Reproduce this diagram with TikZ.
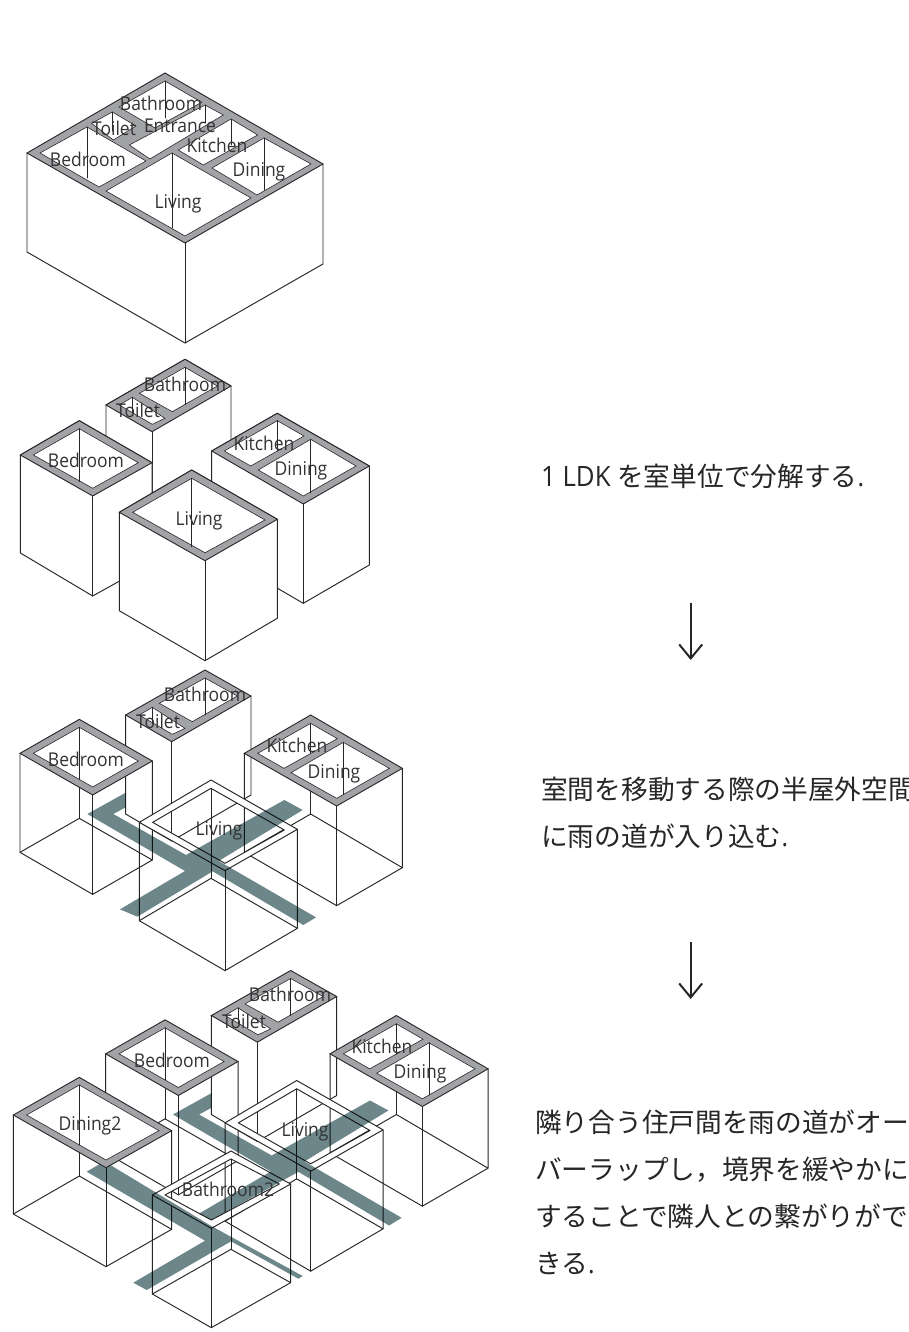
\documentclass[tikz,border=0pt]{standalone}
\usepackage{fontspec}
\setmainfont{Open Sans}[FakeStretch=0.92]
\newfontfamily\jp{Noto Sans CJK JP}
\usetikzlibrary{arrows.meta}
\definecolor{lc}{HTML}{262626}
\definecolor{roofc}{HTML}{A2A3A7}
\definecolor{roadc}{HTML}{6C868A}
\definecolor{labc}{HTML}{333333}
\tikzset{
  edge/.style={draw=lc,line width=.95pt,line cap=round,line join=round},
  roof/.style={fill=roofc,draw=lc,line width=.9pt,line join=miter},
  hole/.style={fill=white,draw=lc,line width=.6pt,line join=miter},
  face/.style={fill=white,draw=lc,line width=.95pt,line join=round},
  lab/.style={inner sep=0pt,text=labc,font=\fontsize{19}{19}\selectfont},
  jpline/.style={inner sep=0pt,anchor=base west,text=lc,font=\fontsize{26.7}{27}\selectfont\jp},
  flow/.style={draw=black!85,line width=2pt,-{Straight Barb[length=14pt,width=23pt,line width=2pt]}},
  road/.style={fill=roadc,blend mode=multiply},
  zthree/.style={x=.33333pt,y=-.33333pt}
}
\newcommand\backlines{%
  \draw[edge] (60,280)--(60,577)--(278,703)--(457,600)--(457,303);
  \draw[edge] (278,405)--(278,703);
  \draw[edge] (238,202)--(238,475);
  \draw[edge] (60,577)--(238,475)--(457,600);
  \draw[edge] (377,165)--(377,462)--(515,543)--(753,405)--(753,108);
  \draw[edge] (515,245)--(515,543);
  \draw[edge] (733,280)--(733,577)--(1010,737)--(1207,623)--(1207,325);
  \draw[edge] (1010,438)--(1010,737);
  \draw[edge] (932,190)--(932,462);
  \draw[edge] (733,577)--(932,462)--(1207,623);
}
\newcommand\livingbox{%
  \fill[white,even odd rule] (633,360)--(892,508)--(675,632)--(418,487)--cycle (633,385)--(853,510)--(675,610)--(458,487)--cycle;
  \draw[edge] (633,360)--(892,508)--(675,632)--(418,487)--cycle;
  \draw[edge] (633,385)--(853,510)--(675,610)--(458,487)--cycle;
  \draw[edge] (418,487)--(418,782)--(675,932)--(892,805)--(892,508);
  \draw[edge] (675,632)--(675,932);
  \draw[edge] (633,385)--(633,655);
  \draw[edge] (418,782)--(633,655)--(892,805);
}
\newcommand\roofs{%
  \draw[roof] (238,178)--(457,303)--(278,405)--(60,280)--cycle;
  \draw[hole] (238,202)--(415,303)--(278,381)--(100,280)--cycle;
  \draw[edge] (238,202)--(238,358);
  \draw[roof] (615,30)--(753,108)--(515,245)--(377,165)--cycle;
  \draw[hole] (615,54)--(712,108)--(577,185)--(478,130)--cycle;
  \draw[hole] (457,142)--(555,205)--(517,223)--(418,165)--cycle;
  \draw[edge] (615,54)--(615,165);
  \draw[edge] (457,142)--(457,190);
  \draw[roof] (932,165)--(1207,325)--(1010,438)--(733,280)--cycle;
  \draw[hole] (932,190)--(1012,236)--(852,325)--(773,280)--cycle;
  \draw[hole] (1030,247)--(1168,325)--(1010,415)--(873,338)--cycle;
  \draw[edge] (932,190)--(932,280);
  \draw[edge] (1030,247)--(1030,403);
}
\newcommand\roadone[1]{%
  \fill[road] (262,462)--(377,398)--(377,442)--(340,462)--(558,585)--(853,420)--(908,450)--(656,603)--(948,772)--(910,795)--(638,634)--#1--(555,633)--cycle;
}
\begin{document}
\begin{tikzpicture}[x=1pt,y=-1pt]
\useasboundingbox (0,0) rectangle (908,1332);
\clip (0,0) rectangle (908,1332);
\fill[white] (0,0) rectangle (908,1332);

%% ---------- stage 1
\draw[edge] (27,153)--(27,252)--(185,343)--(323,264)--(323,164);
\draw[edge] (185,243)--(185,343);
\draw[roof] (165,73)--(323,164)--(185,243)--(27,153)--cycle;
\draw[hole] (87,127)--(146,161)--(99,187)--(40,153)--cycle;
\draw[hole] (172,153)--(251,198)--(185,236)--(106,191)--cycle;
\draw[hole] (264,138)--(311,164)--(257,195)--(212,168)--cycle;
\draw[hole] (231,119)--(257.7,135)--(203.3,165)--(178.3,150)--cycle;
\draw[hole] (165,81)--(201.7,102.3)--(155,128)--(119,107)--cycle;
\draw[hole] (205,105)--(223.3,115)--(150,159)--(129.3,145)--cycle;
\draw[hole] (112.3,112)--(136,126)--(113.3,140)--(91.7,123.3)--cycle;
\draw[edge] (87,127)--(87,178);
\draw[edge] (172,153)--(172,228);
\draw[edge] (264,138)--(264,190);
\draw[edge] (231.7,119)--(231.7,145);
\draw[edge] (165,81)--(165,118);
\draw[edge] (205,105)--(205,123);
\draw[edge] (112.3,112)--(112.3,131);

%% ---------- stage 2
\draw[face] (185,359.3)--(231,386)--(231,486)--(152,532)--(106,505)--(106,405)--cycle;
\draw[edge] (152,431.7)--(152,532);
\draw[roof] (185,359.3)--(231,386)--(152,431.7)--(106,405)--cycle;
\draw[hole] (185,367.3)--(217.3,386)--(172.3,411.7)--(139.3,393.3)--cycle;
\draw[hole] (132.3,397.3)--(165,418.3)--(152.3,424.3)--(119.3,405)--cycle;
\draw[edge] (185,367.3)--(185,404.4);
\draw[edge] (132.3,397.3)--(132.3,412.6);

\draw[face] (79.3,420.7)--(152,462.7)--(152,563)--(92.7,596)--(20.4,553)--(20.4,455)--cycle;
\draw[edge] (92.7,496)--(92.7,596);
\draw[roof] (79.3,420.7)--(152,462.7)--(92.7,496)--(20.4,455)--cycle;
\draw[hole] (79.3,428.7)--(138.3,462.7)--(92.7,488.3)--(33.3,455)--cycle;
\draw[edge] (79.3,428.7)--(79.3,481.7);

\draw[face] (277.3,413.3)--(369.3,466)--(369.3,565)--(303.3,603.3)--(211.7,550)--(211.7,451)--cycle;
\draw[edge] (303.3,504)--(303.3,603.3);
\draw[roof] (277.3,413.3)--(369.3,466)--(303.3,504)--(211.7,451)--cycle;
\draw[hole] (277.3,420.7)--(304,436)--(250.7,466)--(224.3,451)--cycle;
\draw[hole] (310.7,439.3)--(356,466)--(303.3,496)--(258.3,470)--cycle;
\draw[edge] (277.3,420.7)--(277.3,451);
\draw[edge] (310.7,439.3)--(310.7,493);

\draw[face] (191.7,470)--(277.3,519.3)--(277.3,618.3)--(205,660.7)--(119.3,610.7)--(119.3,512.3)--cycle;
\draw[edge] (205,560.7)--(205,660.7);
\draw[roof] (191.7,470)--(277.3,519.3)--(205,560.7)--(119.3,512.3)--cycle;
\draw[hole] (191.7,478.3)--(265,520)--(205,552.7)--(132.7,512.3)--cycle;
\draw[edge] (191.7,478.3)--(191.7,546.7);

%% ---------- stage 3
\begin{scope}[shift={(0,660)},zthree]
  \backlines
  \livingbox
  \roadone{(412,770)--(360,748)}
  \roofs
\end{scope}

%% ---------- stage 4
\begin{scope}[shift={(85.7,960.5)},zthree]
  \backlines
  \livingbox
\end{scope}
\begin{scope}[shift={(0,960)},zthree]
  \draw[edge] (40,465)--(40,762)--(318,920)--(515,808)--(515,512);
  \draw[edge] (318,623)--(318,920);
  \draw[edge] (238,375)--(238,648);
  \draw[edge] (40,762)--(238,648)--(515,808);
  \fill[white,even odd rule] (693,573)--(872,672)--(634,805)--(457,705)--cycle (693,597)--(838,672)--(634,780)--(495,705)--cycle;
  \draw[edge] (693,573)--(872,672)--(634,805)--(457,705)--cycle;
  \draw[edge] (693,597)--(838,672)--(634,780)--(495,705)--cycle;
  \draw[edge] (457,705)--(457,1002)--(634,1103)--(872,968)--(872,672);
  \draw[edge] (634,805)--(634,1103);
  \draw[edge] (693,597)--(693,868);
  \draw[edge] (457,1002)--(693,868)--(872,968);
\end{scope}
\begin{scope}[shift={(85.7,960.5)},zthree]
  \roadone{(376.8,778)--(340.5,759)}
\end{scope}
\fill[road] (86.7,1171.7)--(108,1159)--(106,1162.4)--(211.3,1226)--(302.7,1276)--(298.3,1278.7)--(231,1241.3)--(146.7,1290)--(133.3,1282.7)--(205,1240.7)--cycle;
\begin{scope}[shift={(85.7,960.5)},zthree]
  \roofs
\end{scope}
\begin{scope}[shift={(0,960)},zthree]
  \draw[roof] (238,352)--(515,512)--(318,623)--(40,465)--cycle;
  \draw[hole] (238,375)--(477,512)--(318,600)--(80,465)--cycle;
  \draw[edge] (238,375)--(238,555);
\end{scope}

%% ---------- room labels
\node[lab] (s1bath) at (161,103) {Bathroom};
\node[lab] (s1toil) at (114,128) {Toilet};
\node[lab] (s1entr) at (180,126) {Entrance};
\node[lab] (s1kitc) at (217,145) {Kitchen};
\node[lab] (s1dini) at (259,172) {Dining};
\node[lab] (s1livi) at (178,204) {Living};
\node[lab] (s1bedr) at (88,159) {Bedroom};

\node[lab] (s2bath) at (185,384) {Bathroom};
\node[lab] (s2toil) at (138,410) {Toilet};
\node[lab] (s2bedr) at (86,460) {Bedroom};
\node[lab] (s2kitc) at (264,443) {Kitchen};
\node[lab] (s2dini) at (301,471) {Dining};
\node[lab] (s2livi) at (199,521) {Living};

\node[lab] (s3bath) at (205,694) {Bathroom};
\node[lab] (s3toil) at (158,721) {Toilet};
\node[lab] (s3bedr) at (86,759) {Bedroom};
\node[lab] (s3kitc) at (297,745) {Kitchen};
\node[lab] (s3dini) at (334,774) {Dining};
\node[lab] (s3livi) at (219,831) {Living};

\node[lab] (s4bath) at (290,994) {Bathroom};
\node[lab] (s4toil) at (244,1021) {Toilet};
\node[lab] (s4bedr) at (172,1060) {Bedroom};
\node[lab] (s4kitc) at (382,1046) {Kitchen};
\node[lab] (s4dini) at (420,1074) {Dining};
\node[lab] (s4livi) at (305,1132) {Living};
\node[lab] (s4din2) at (90,1126) {Dining2};
\node[lab] (s4bat2) at (228,1189) {Bathroom2};

%% ---------- text column
\node[jpline] (t1) at (541,486) {{\rmfamily\fontsize{28}{27}\selectfont 1 LDK }を室単位で分解する{\rmfamily .}};
\node[jpline] (t2a) at (541,799) {室間を移動する際の半屋外空間};
\node[jpline] (t2b) at (541,846) {に雨の道が入り込む{\rmfamily .}};
\node[jpline] (t3a) at (535,1132) {隣り合う住戸間を雨の道がオー};
\node[jpline] (t3b) at (535,1179) {バーラップし，境界を緩やかに};
\node[jpline] (t3c) at (535,1226) {することで隣人との繋がりがで};
\node[jpline] (t3d) at (535,1273) {きる{\rmfamily .}};

\coordinate (a1s) at (690.7,603);
\coordinate (a1e) at (690.7,660);
\coordinate (a2s) at (690.7,942);
\coordinate (a2e) at (690.7,999);
\draw[flow] (a1s)--(a1e);
\draw[flow] (a2s)--(a2e);
\end{tikzpicture}
\end{document}
